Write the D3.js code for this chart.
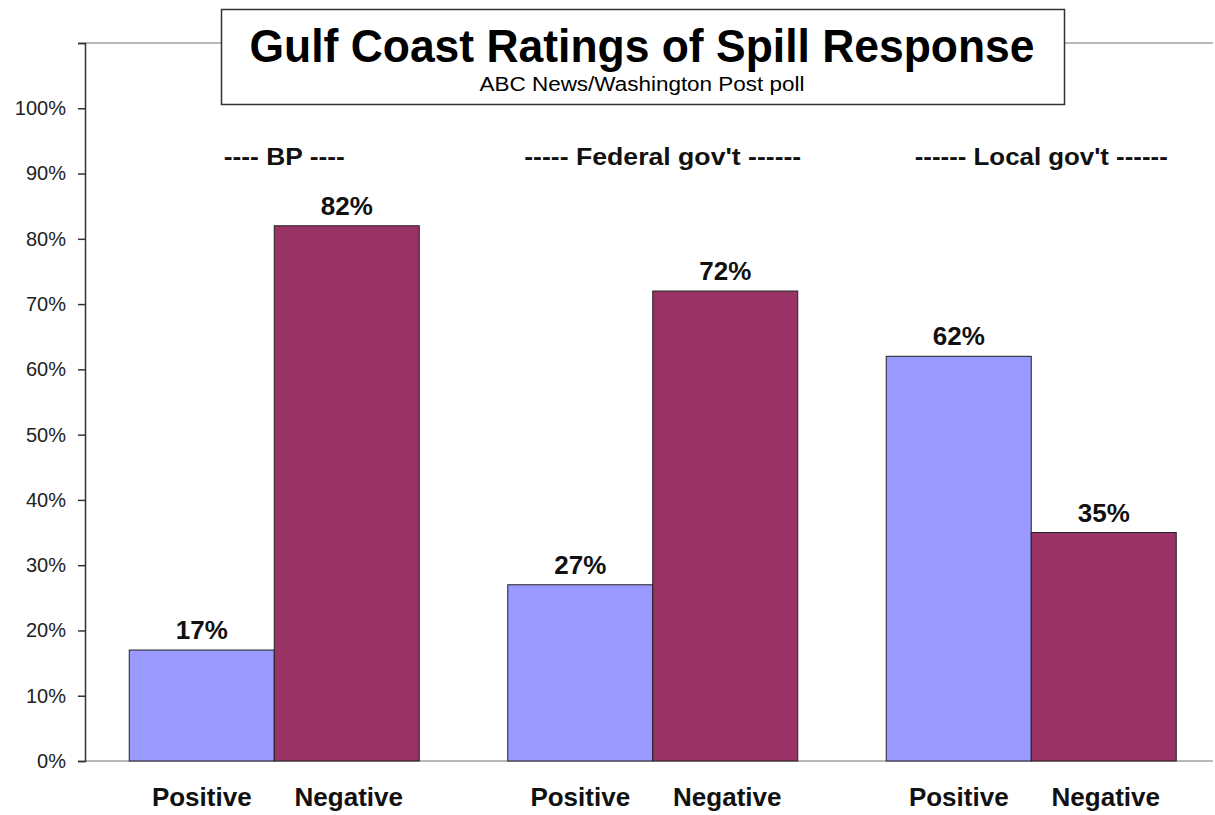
<!DOCTYPE html>
<html>
<head>
<meta charset="utf-8">
<script src="https://cdn.jsdelivr.net/npm/d3@7"></script>
<style>
  body { margin: 0; background: #fff; }
  text { font-family: "Liberation Sans", Arial, sans-serif; }
</style>
</head>
<body>
<div id="wrapper"></div>
<script>
// data
const groups = ["BP", "Federal gov't", "Local gov't"]
const groupHeaders = ["---- BP ----", "----- Federal gov't ------", "------ Local gov't ------"]
const series = ["Positive", "Negative"]
const positive = [17, 27, 62]
const negative = [82, 72, 35]
const tickValues = [0, 10, 20, 30, 40, 50, 60, 70, 80, 90, 100]

const colors = { Positive: "#9999ff", Negative: "#993366" }

const dimensions = {
  width: 1215,
  height: 815,
  left: 85,
  right: 1213,
  top: 43,
  bottom: 761,
}

const wrapper = d3.select("#wrapper")
  .append("svg")
  .attr("width", dimensions.width)
  .attr("height", dimensions.height)

// scales
const yScale = d3.scaleLinear()
  .domain([0, 110])
  .range([dimensions.bottom, dimensions.top])

const xScale = d3.scaleBand()
  .domain(groups)
  .range([dimensions.left, dimensions.left + 3 * 378.5])
  .paddingInner(0)
  .paddingOuter(0)

const barWidth = 145
const xSub = d3.scaleBand()
  .domain(series)
  .range([0, barWidth * 2])

const data = []
groups.forEach((g, i) => {
  data.push({ group: g, key: "Positive", value: positive[i] })
  data.push({ group: g, key: "Negative", value: negative[i] })
})
const barX = d => xScale(d.group) + xScale.bandwidth() / 2 - barWidth + xSub(d.key)

// top frame line and baseline
wrapper.append("line")
  .attr("x1", dimensions.left).attr("x2", dimensions.right)
  .attr("y1", dimensions.top).attr("y2", dimensions.top)
  .attr("stroke", "#a0a0a0").attr("stroke-width", 1.5)

wrapper.append("line")
  .attr("x1", dimensions.left).attr("x2", dimensions.right)
  .attr("y1", dimensions.bottom).attr("y2", dimensions.bottom)
  .attr("stroke", "#a0a0a0").attr("stroke-width", 1.5)

// bars
wrapper.append("g")
  .selectAll("rect")
  .data(data)
  .join("rect")
  .attr("x", barX)
  .attr("y", d => yScale(d.value))
  .attr("width", barWidth)
  .attr("height", d => yScale(0) - yScale(d.value))
  .attr("fill", d => colors[d.key])
  .attr("stroke", "#222")
  .attr("stroke-width", 1)

// y axis
const yAxis = d3.axisLeft(yScale)
  .tickValues(tickValues.concat([110]))
  .tickSize(7)
  .tickFormat(d => d > 100 ? "" : d + "%")

const yAxisG = wrapper.append("g")
  .attr("transform", `translate(${dimensions.left},0)`)
  .call(yAxis)
yAxisG.select(".domain").attr("stroke", "#333").attr("stroke-width", 1.5)
yAxisG.selectAll(".tick line").attr("stroke", "#333").attr("stroke-width", 1.5)
yAxisG.selectAll(".tick text")
  .attr("x", -19)
  .attr("fill", "#222")
  .style("font-size", "20px")
  .style("font-family", "'Liberation Sans', Arial, sans-serif")

// value labels
wrapper.append("g")
  .selectAll("text")
  .data(data)
  .join("text")
  .attr("x", d => barX(d) + barWidth / 2)
  .attr("y", d => yScale(d.value) - 11)
  .attr("text-anchor", "middle")
  .style("font-size", "26px")
  .style("font-weight", "bold")
  .attr("fill", "#111")
  .text(d => d.value + "%")

// category labels
wrapper.append("g")
  .selectAll("text")
  .data(data)
  .join("text")
  .attr("x", d => barX(d) + barWidth / 2 + (d.key === "Positive" ? 0 : 2))
  .attr("y", 806)
  .attr("text-anchor", "middle")
  .style("font-size", "26px")
  .style("font-weight", "bold")
  .attr("fill", "#111")
  .text(d => d.key)

// group headers
const headerWidths = [121, 277, 253]
wrapper.append("g")
  .selectAll("text")
  .data(groups)
  .join("text")
  .attr("x", d => xScale(d) + xScale.bandwidth() / 2 + 10)
  .attr("y", 165)
  .attr("text-anchor", "middle")
  .attr("textLength", (d, i) => headerWidths[i])
  .attr("lengthAdjust", "spacingAndGlyphs")
  .style("font-size", "23px")
  .style("font-weight", "bold")
  .attr("fill", "#111")
  .text((d, i) => groupHeaders[i])

// title box
wrapper.append("rect")
  .attr("x", 221.5).attr("y", 9.5)
  .attr("width", 843).attr("height", 95)
  .attr("fill", "#fff")
  .attr("stroke", "#333")
  .attr("stroke-width", 1.5)

wrapper.append("text")
  .attr("x", 642).attr("y", 62)
  .attr("text-anchor", "middle")
  .attr("textLength", 785)
  .attr("lengthAdjust", "spacingAndGlyphs")
  .style("font-size", "46px")
  .style("font-weight", "bold")
  .attr("fill", "#000")
  .text("Gulf Coast Ratings of Spill Response")

wrapper.append("text")
  .attr("x", 642).attr("y", 91)
  .attr("text-anchor", "middle")
  .attr("textLength", 325)
  .attr("lengthAdjust", "spacingAndGlyphs")
  .style("font-size", "20px")
  .attr("fill", "#000")
  .text("ABC News/Washington Post poll")
</script>
</body>
</html>
